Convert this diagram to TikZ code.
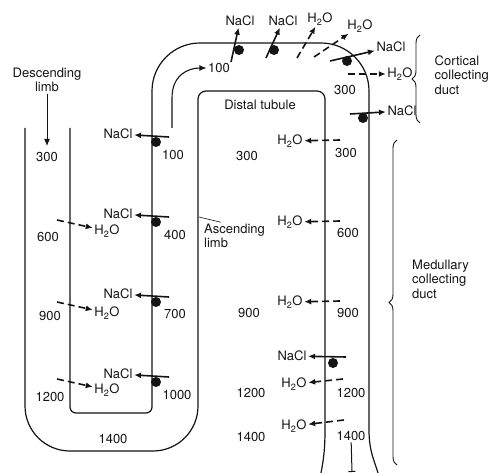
\documentclass[tikz,border=0pt]{standalone}
\usepackage{fontspec}
\setmainfont{TeX Gyre Heros}
\usepackage{tikz}
\usetikzlibrary{arrows.meta,decorations.pathreplacing}
\definecolor{ink}{HTML}{141414}

\begin{document}
\begin{tikzpicture}[x=1pt,y=-1pt,
  every node/.style={font=\fontsize{13}{14.5}\selectfont,color=ink,inner sep=1.5pt},
  wall/.style={ink,line width=1.2pt},
  pump/.style={ink,line width=1.6pt,-{Latex[length=7pt,width=6pt]}},
  leak/.style={pump,dash pattern=on 7pt off 4pt},
  thinarrow/.style={ink,line width=1.1pt,-{Latex[length=7pt,width=6pt]}},
  curly/.style={ink,line width=0.9pt,decorate,decoration={brace,amplitude=8pt}}]
\useasboundingbox (0,0) rectangle (493,473);

\draw[wall,rounded corners=45pt] (25,128) -- (25,451) -- (198,451) -- (198,300);
\draw[wall,rounded corners=8pt] (198,300) -- (198,91) -- (325,91) -- (325,300);
\draw[wall] (325,300) -- (325,430) .. controls (325,452) and (323,462) .. (321,473);
\draw[wall,rounded corners=6pt] (70,128) -- (70,413) -- (152,413) -- (152,300);
\draw[wall,rounded corners=48pt] (152,300) -- (152,43) -- (369,43) -- (369,300);
\draw[wall] (369,300) -- (369,430) .. controls (369,452) and (375,462) .. (378,473);

\node[align=center] (desc) at (47,80) {Descending\\limb};
\coordinate (dtip) at (47,146);
\draw[ink,line width=1pt,-{Latex[length=7pt,width=6pt]}] (desc) -- (dtip);
\node[align=left,anchor=west] (asc) at (202.5,236) {Ascending\\limb};
\coordinate (ascw) at (199,217);
\draw[ink,line width=0.6pt] (ascw) -- (asc.135);
\node (dist) at (260,105) {Distal tubule};
\node[align=left,anchor=west] (cort) at (433,75) {Cortical\\collecting\\duct};
\node[align=left,anchor=west] (medul) at (410.5,279) {Medullary\\collecting\\duct};
\draw[curly] (420,123) -- (420,35);
\draw[curly] (397,465) -- (397,140);

\foreach \n/\x/\y/\v in {d1/47/157/300,d2/48/237/600,d3/50/316/900,d4/50/397/1200,
  a1/173/155/100,a2/175/235/400,a3/175/314/700,a4/177/395/1000,i1/113/439/1400,
  m1/247/156/300,m2/249/313/900,m3/251/393/1200,m4/251/437/1400,
  k0/345/90/300,k1/346/153/300,k2/348/233/600,k3/348/313/900,k4/351/393/1200,k5/351/436/1400}
  \node (\n) at (\x,\y) {\v};

\node (top) at (219,68) {100};
\coordinate (flow) at (172,128);
\draw[thinarrow] (flow) -- (172,98) .. controls (172,75) and (188,68) .. (top);

\foreach \i/\y in {1/137,2/217,3/297,4/377}{
  \coordinate (ap\i) at (169,\y);
  \node (an\i) at (118,\y-3) {NaCl};
  \fill[ink] (156,\y+5) circle (5pt);
  \draw[pump] (ap\i) -- (an\i);
}
\foreach \i/\y in {1/220,2/302,3/379}{
  \coordinate (dl\i) at (57,\y);
  \node (dh\i) at (107,\y+11) {H\textsubscript{2}O};
  \draw[leak] (dl\i) -- (dh\i);
}
\foreach \i/\xa/\ya/\xb/\yb in {1/340/140/290/141,2/340/221/290/222,3/340/301/290/302,
  4/343/379/294/384,5/344/420/294/426}{
  \coordinate (cl\i) at (\xa,\ya);
  \node (ch\i) at (\xb,\yb) {H\textsubscript{2}O};
  \draw[leak] (cl\i) -- (ch\i);
}
\coordinate (cp) at (346,357);
\node (cn) at (292,356) {NaCl};
\draw[pump] (cp) -- (cn);

\foreach \i/\xa/\ya/\xb/\yb/\t/\s in {1/231/62/240/21/NaCl/pump,2/266/58/283/21/NaCl/pump,
  3/297/58/320/19/H\textsubscript{2}O/leak,4/314/57/360/26/H\textsubscript{2}O/leak,
  5/330/61/391/47/NaCl/pump,6/348/74/400/74/H\textsubscript{2}O/leak,7/350/114/402/111/NaCl/pump}{
  \coordinate (cb\i) at (\xa,\ya);
  \node (ct\i) at (\xb,\yb) {\t};
  \draw[\s] (cb\i) -- (ct\i);
}
\foreach \x/\y in {239/50,274/50,347/61,363/118,333/363}
  \fill[ink] (\x,\y) circle (5pt);

\coordinate (cout) at (352,472);
\draw[ink,line width=1pt,-{Bar[width=7pt]}] (k5) -- (cout);
\end{tikzpicture}
\end{document}
